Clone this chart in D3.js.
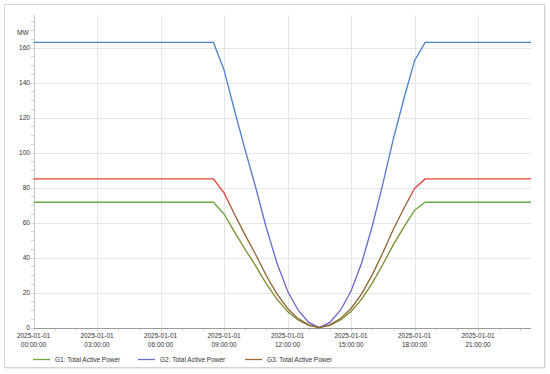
<!DOCTYPE html>
<html><head><meta charset="utf-8">
<script src="https://cdn.jsdelivr.net/npm/d3@7"></script>
<style>body{margin:0;background:#fff}svg{display:block}text{font-family:"Liberation Sans",Arial,sans-serif;fill:#333}</style>
</head><body><svg id="c" width="550" height="374"></svg>
<script>
const times = ["00:00","00:30","01:00","01:30","02:00","02:30","03:00","03:30","04:00","04:30","05:00","05:30",
"06:00","06:30","07:00","07:30","08:00","08:30","09:00","09:30","10:00","10:30","11:00","11:30",
"12:00","12:30","13:00","13:30","14:00","14:30","15:00","15:30","16:00","16:30","17:00","17:30",
"18:00","18:30","19:00","19:30","20:00","20:30","21:00","21:30","22:00","22:30","23:00","23:30"];
const g1 = [71.7,71.7,71.7,71.7,71.7,71.7,71.7,71.7,71.7,71.7,71.7,71.7,71.7,71.7,71.7,71.7,71.7,71.7,
65,54.6,44.7,35.2,25.0,16.3,9.2,4.4,1.3,0,1.3,4.4,9.2,16.3,25.5,36.1,47.5,57.6,67.1,
71.7,71.7,71.7,71.7,71.7,71.7,71.7,71.7,71.7,71.7,71.7];
const g2 = [163,163,163,163,163,163,163,163,163,163,163,163,163,163,163,163,163,163,
147.3,124,101.5,80,57,37,21,10,3,0,3,10,21,37,58,82,108,131,152.6,
163,163,163,163,163,163,163,163,163,163,163];
const g3 = [85,85,85,85,85,85,85,85,85,85,85,85,85,85,85,85,85,85,
77,64.7,52.9,41.7,29.7,19.3,11.0,5.2,1.6,0,1.6,5.2,11.0,19.3,30.2,42.8,56.3,68.3,79.6,
85,85,85,85,85,85,85,85,85,85,85];
const seriesNames = ["G1: Total Active Power","G2: Total Active Power","G3: Total Active Power"];
const dateLabel = "2025-01-01";
const xTickTimes = ["00:00","03:00","06:00","09:00","12:00","15:00","18:00","21:00"];
const xTickLabels = ["00:00:00","03:00:00","06:00:00","09:00:00","12:00:00","15:00:00","18:00:00","21:00:00"];
const yTicks = [0,20,40,60,80,100,120,140,160];
const yUnit = "MW";

const parse = d3.timeParse("%Y-%m-%d %H:%M");
const dates = times.map(t => parse(dateLabel + " " + t));
const svg = d3.select("#c");

// frame
svg.append("rect").attr("x",5.5).attr("y",5.5).attr("width",540).attr("height",363).attr("fill","#bbb").attr("opacity",0.5);
svg.append("rect").attr("x",4.5).attr("y",4.5).attr("width",540).attr("height",363).attr("fill","#fff").attr("stroke","#d4d4d4");

const x = d3.scaleTime().domain([dates[0], dates[dates.length-1]]).range([33.5, 531]);
const y = d3.scaleLinear().domain([0, 178.7]).range([327.7, 15]);

// grid
const xt = xTickTimes.map(t => parse(dateLabel + " " + t));
svg.append("g").selectAll("line").data(xt.slice(1)).join("line")
  .attr("x1", d => Math.round(x(d))+0.5).attr("x2", d => Math.round(x(d))+0.5)
  .attr("y1", 15).attr("y2", y(0)).attr("stroke","#e6e6e6");
svg.append("g").selectAll("line").data(yTicks.slice(1)).join("line")
  .attr("x1", 34).attr("x2", 531)
  .attr("y1", d => Math.round(y(d))+0.5).attr("y2", d => Math.round(y(d))+0.5).attr("stroke","#e6e6e6");

// y axis
const yAxis = d3.axisLeft(y).tickValues(yTicks).tickSize(0).tickPadding(4);
const ya = svg.append("g").attr("transform","translate(34,0)").call(yAxis);
ya.select(".domain").attr("stroke","#c8c8c8").attr("d","M0.5,15V"+y(0));
ya.selectAll("text").attr("font-size","6.6px").attr("fill","#333");
const minorY = d3.range(0, 178, 5);
svg.append("g").selectAll("line").data(minorY).join("line")
  .attr("x1",31).attr("x2",34).attr("y1",d=>Math.round(y(d))+0.5).attr("y2",d=>Math.round(y(d))+0.5).attr("stroke","#d0d0d0");
svg.append("text").attr("x",17).attr("y",34.5).attr("font-size","6.6px").text(yUnit);

// x axis
svg.append("line").attr("x1",34).attr("x2",531).attr("y1",328.5).attr("y2",328.5).attr("stroke","#9a9a9a");
const minorX = dates.filter((d,i)=>i%2===0);
svg.append("g").selectAll("line").data(minorX).join("line")
  .attr("x1",d=>Math.round(x(d))+0.5).attr("x2",d=>Math.round(x(d))+0.5).attr("y1",329).attr("y2",331).attr("stroke","#d0d0d0");
const xl = svg.append("g").selectAll("text").data(xt).join("text")
  .attr("text-anchor","middle").attr("font-size","6.5px");
xl.append("tspan").attr("x", d => x(d)).attr("y", 337.5).text(dateLabel);
xl.append("tspan").attr("x", d => x(d)).attr("y", 347).text((d,i) => xTickLabels[i]);

// gradients
const defs = svg.append("defs");
function xGrad(id, bright, muted){
  const g = defs.append("linearGradient").attr("id",id).attr("gradientUnits","userSpaceOnUse")
    .attr("x1",0).attr("x2",550).attr("y1",0).attr("y2",0);
  const p = t => x(parse(dateLabel+" "+t))/550;
  [[0,bright],[p("09:00"),bright],[p("09:30"),muted],[p("17:30"),muted],[p("18:00"),bright],[1,bright]]
    .forEach(([o,c]) => g.append("stop").attr("offset",o).attr("stop-color",c));
}
xGrad("gG1","#6aab45","#7a8a2c");
xGrad("gG3","#e8403a","#8e6433");
const vg = defs.append("linearGradient").attr("id","gG2").attr("gradientUnits","userSpaceOnUse")
  .attr("x1",0).attr("x2",0).attr("y1",y(120)).attr("y2",y(20));
vg.append("stop").attr("offset",0).attr("stop-color","#4a80cc");
vg.append("stop").attr("offset",1).attr("stop-color","#6d62c8");

const line = d3.line().x((d,i)=>x(dates[i])).y(d=>y(d));
const series = [g1,g2,g3];
const strokes = ["url(#gG1)","url(#gG2)","url(#gG3)"];
svg.append("g").selectAll("path").data(series).join("path")
  .attr("d", line).attr("fill","none").attr("stroke",(d,i)=>strokes[i]).attr("stroke-width",1.3);

// legend
const legendColors = ["#72a83c","#6a70cc","#9a6a38"];
const lx = [33,138,245];
const lg = svg.append("g").selectAll("g").data(seriesNames).join("g").attr("transform",(d,i)=>`translate(${lx[i]},359.5)`);
lg.append("line").attr("x1",0).attr("x2",17).attr("stroke",(d,i)=>legendColors[i]).attr("stroke-width",1.3);
lg.append("text").attr("x",22).attr("y",2.3).attr("font-size","6.5px").text(d=>d);
</script></body></html>
